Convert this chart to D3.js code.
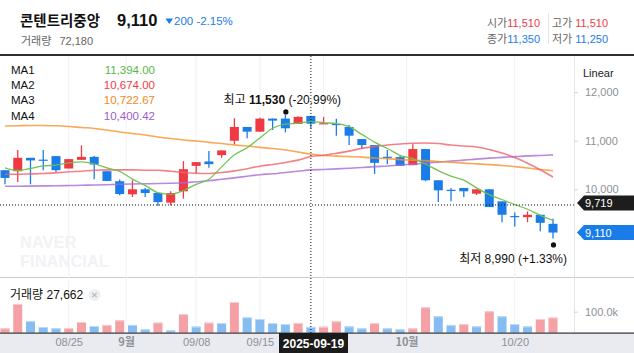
<!DOCTYPE html>
<html>
<head>
<meta charset="utf-8">
<style>
  body { margin: 0; background: #fff; }
  svg { display: block; font-family: "Liberation Sans", Arial, "Noto Sans CJK KR", sans-serif; }
  .axis path.domain { display: none; }
  .axis line { stroke: #cfd3d8; }
  .axis text { fill: #8e9196; font-size: 11px; }
</style>
<script src="https://cdn.jsdelivr.net/npm/d3@7"></script>
</head>
<body>
<svg id="chart"></svg>
<script>
// trading days shown (2025)
const dates = ["08/18","08/19","08/20","08/21","08/22","08/25","08/26","08/27","08/28","08/29",
  "09/01","09/02","09/03","09/04","09/05","09/08","09/09","09/10","09/11","09/12",
  "09/15","09/16","09/17","09/18","09/19","09/22","09/23","09/24","09/25","09/26","09/29","09/30",
  "10/01","10/02","10/10","10/13","10/14","10/15","10/16","10/17","10/20","10/21","10/22","10/23"];

const opens  = [10393,10372,10648,10610,10683,10428,10606,10668,10372,10166,9897,10000,9924,9725,9959,10482,10573,10703,10999,11283,11186,11455,11455,11345,11510,11350,11345,11283,11034,10910,10670,10662,10497,10828,10186,9990,10027,9910,10000,9752,9450,9427,9476,9290];
const highs  = [10393,10807,10648,10807,10683,10621,10904,10683,10372,10200,10186,10027,9924,9959,10579,10559,10786,10800,11463,11283,11470,11455,11530,11504,11510,11490,11450,11324,11034,10910,10807,10683,10925,10828,10186,10027,10027,10000,10000,9752,9524,9545,9476,9393];
const lows   = [10103,10151,10103,10393,10358,10428,10606,10207,10172,9876,9841,9841,9654,9669,9808,10325,10441,10648,10925,11049,11186,11220,11172,11345,11250,11350,11100,10910,10828,10317,10517,10482,10497,10166,9737,9752,9841,9882,9634,9323,9234,9323,9137,8990];
const closes = [10234,10648,10594,10600,10393,10621,10668,10511,10172,9903,10000,9924,9737,9924,10414,10559,10517,10800,11283,11186,11455,11413,11255,11490,11350,11360,11330,11103,10910,10544,10650,10482,10828,10186,9979,9970,9959,10000,9634,9476,9430,9476,9310,9110];
const volumes = [21000,137000,56000,27000,21500,22500,51000,32000,37000,59000,37000,16000,48000,11000,89000,29000,48000,46000,146000,73000,65000,46000,41000,46500,27662,28500,54000,30000,21000,46000,21000,16000,21000,121000,78000,37000,41000,30000,102000,78000,41000,30000,65000,72180];

// moving averages
const ma1 = [10441,10387,10428,10482,10497,10544,10565,10523,10440,10370,10210,10080,9930,9897,9975,10103,10207,10461,10710,10855,11055,11256,11339,11360,11394,11370,11350,11290,11130,10970,10840,10700,10630,10515,10385,10270,10190,10030,9890,9790,9685,9590,9465,9360];
const ma2 = [10310,10310,10317,10325,10337,10362,10372,10393,10399,10399,10399,10393,10393,10372,10346,10331,10325,10346,10379,10424,10476,10511,10552,10600,10674,10700,10740,10786,10842,10880,10910,10931,10946,10952,10941,10910,10890,10869,10817,10745,10652,10538,10403,10254];
const ma3 = [11303,11307,11314,11314,11307,11293,11272,11252,11221,11179,11148,11117,11076,11045,11014,10993,10966,10941,10914,10890,10863,10838,10807,10766,10723,10697,10683,10672,10662,10645,10631,10610,10600,10590,10573,10559,10538,10524,10507,10490,10466,10439,10408,10383];
const ma4 = [10062,10062,10066,10070,10072,10077,10083,10087,10093,10103,10110,10114,10118,10124,10134,10155,10176,10207,10235,10268,10300,10320,10345,10372,10400,10408,10420,10434,10449,10466,10480,10501,10517,10538,10559,10579,10600,10621,10641,10656,10672,10687,10697,10708];

const maNames = ["MA1", "MA2", "MA3", "MA4"];
const maValues = ["11,394.00", "10,674.00", "10,722.67", "10,400.42"];

const priceTicks = [10000, 11000, 12000];
const volumeTicks = [100000];
const gridDates = ["08/25", "09/01", "09/08", "09/15", "09/22", "10/01", "10/20"];
const dateTicks = ["08/25", "09/01", "09/08", "09/15", "10/01", "10/20"];
const monthLabels = { "09/01": "9월", "10/01": "10월" };

const crossIndex = 24;
const crossPrice = 9719;
const stockName = "콘텐트리중앙";

const RED = "#ef3a43", BLUE = "#1a7ce9";
const VOL_RED = "#f4a0a4", VOL_BLUE = "#85bcf2";
const maColors = ["#6fc04c", "#f0606a", "#f7922c", "#a66bd7"];
const maTextColors = ["#58b844", "#ee3c47", "#f5871c", "#9b5ccf"];

const width = 634, height = 353, plotRight = 574;
const svg = d3.select("#chart").attr("width", width).attr("height", height);
const fmt = d3.format(",");

const x = d3.scaleLinear().domain([0, dates.length - 1]).range([5, 553]);
const y = d3.scaleLinear().domain([10000, 12000]).range([189.3, 92.1]);
const vy = d3.scaleLinear().domain([0, 100000]).range([332.7, 311.7]);
const idx = d => dates.indexOf(d) - (monthLabels[d] ? 0.5 : 0);

// ---------- header ----------
const last = dates.length - 1;
const chg = closes[last] - closes[last - 1];
const pct = (chg / closes[last - 1] * 100).toFixed(2);

svg.append("text").attr("x", 20).attr("y", 26)
  .attr("font-family", "Noto Sans CJK KR").attr("font-weight", "bold")
  .attr("font-size", 14.5).attr("fill", "#111").text(stockName);
svg.append("text").attr("x", 117).attr("y", 26)
  .attr("font-weight", "bold").attr("font-size", 16.5).attr("fill", "#111")
  .text(fmt(closes[last]));
svg.append("path").attr("d", "M165.5,18.5 L173,18.5 L169.25,24 Z").attr("fill", BLUE);
svg.append("text").attr("x", 174).attr("y", 25).attr("font-size", 11.5).attr("fill", BLUE)
  .text(Math.abs(chg) + "  " + pct + "%");
svg.append("text").attr("x", 21).attr("y", 45).attr("font-size", 11).attr("fill", "#666")
  .html(`<tspan font-family="Noto Sans CJK KR">거래량</tspan><tspan dx="8">${fmt(volumes[last])}</tspan>`);

const ohlc = [
  { label: "시가", v: opens[crossIndex], c: RED, x: 540, y: 27 },
  { label: "종가", v: closes[crossIndex], c: BLUE, x: 540, y: 43 },
  { label: "고가", v: highs[crossIndex], c: RED, x: 608, y: 27 },
  { label: "저가", v: lows[crossIndex], c: BLUE, x: 608, y: 43 },
];
ohlc.forEach(o => {
  svg.append("text").attr("x", o.x).attr("y", o.y).attr("text-anchor", "end").attr("font-size", 11)
    .html(`<tspan fill="#666" font-family="Noto Sans CJK KR">${o.label}</tspan><tspan dx="${o.x > 560 ? 3 : 0}" fill="${o.c}">${fmt(o.v)}</tspan>`);
});
svg.append("line").attr("x1", 548.5).attr("x2", 548.5).attr("y1", 13).attr("y2", 44).attr("stroke", "#e2e4e8");
svg.append("rect").attr("x", 0).attr("y", 54).attr("width", width).attr("height", 2).attr("fill", "#2e2e2e");

// ---------- panes ----------
svg.append("rect").attr("x", 0).attr("y", 333).attr("width", width).attr("height", 20).attr("fill", "#e9ebf0");
svg.append("line").attr("x1", 0).attr("x2", width).attr("y1", 277.5).attr("y2", 277.5).attr("stroke", "#c7ccd3");

// vertical grid
svg.append("g").selectAll("line").data(gridDates).join("line")
  .attr("x1", d => x(idx(d))).attr("x2", d => x(idx(d)))
  .attr("y1", 56).attr("y2", 333).attr("stroke", "#eff1f4");

svg.append("line").attr("x1", plotRight + 0.5).attr("x2", plotRight + 0.5).attr("y1", 56).attr("y2", 333).attr("stroke", "#e1e4e8");

// watermark
svg.append("text").attr("x", 20).attr("y", 248).attr("font-weight", "bold").attr("font-size", 16.5).attr("fill", "#f1f2f5").text("NAVER");
svg.append("text").attr("x", 20).attr("y", 267).attr("font-weight", "bold").attr("font-size", 16.5).attr("fill", "#f1f2f5").text("FINANCIAL");

// ---------- candles ----------
svg.append("clipPath").attr("id", "pane").append("rect")
  .attr("x", 0).attr("y", 56).attr("width", plotRight).attr("height", 221);
const pane = svg.append("g").attr("clip-path", "url(#pane)");
const candles = pane.selectAll(".candle").data(dates).join("g").attr("class", "candle");
const col = i => closes[i] >= opens[i] ? RED : BLUE;
candles.append("line")
  .attr("x1", (d, i) => x(i)).attr("x2", (d, i) => x(i))
  .attr("y1", (d, i) => y(highs[i])).attr("y2", (d, i) => y(lows[i]))
  .attr("stroke", (d, i) => col(i)).attr("stroke-width", 1.3);
candles.append("rect")
  .attr("x", (d, i) => x(i) - 4.5).attr("width", 9)
  .attr("y", (d, i) => y(Math.max(opens[i], closes[i])))
  .attr("height", (d, i) => Math.max(1.2, Math.abs(y(opens[i]) - y(closes[i]))))
  .attr("fill", (d, i) => col(i));

// ---------- moving averages ----------
const line = d3.line().x((d, i) => x(i)).y(d => y(d)).curve(d3.curveMonotoneX);
[ma4, ma3, ma2, ma1].forEach((s, k) => {
  const j = 3 - k;
  pane.append("path").attr("d", line(s)).attr("fill", "none")
    .attr("stroke", maColors[j]).attr("stroke-width", j === 0 ? 1.3 : 1.6)
    .attr("stroke-opacity", j === 0 ? 0.95 : 0.8);
});

// legend
maNames.forEach((n, i) => {
  svg.append("text").attr("x", 11).attr("y", 74 + i * 15.2).attr("font-size", 11.5).attr("fill", "#111").text(n);
  svg.append("text").attr("x", 155).attr("y", 74 + i * 15.2).attr("text-anchor", "end")
    .attr("font-size", 11.5).attr("fill", maTextColors[i]).text(maValues[i]);
});

// high / low markers
const hiIdx = highs.indexOf(d3.max(highs)), loIdx = lows.indexOf(d3.min(lows));
const hiPct = ((closes[last] - highs[hiIdx]) / highs[hiIdx] * 100).toFixed(2);
const loPct = ((closes[last] - lows[loIdx]) / lows[loIdx] * 100).toFixed(2);
svg.append("circle").attr("cx", x(hiIdx) + 0.5).attr("cy", y(highs[hiIdx]) - 3).attr("r", 2.6).attr("fill", "#111");
svg.append("text").attr("x", x(hiIdx) - 3).attr("y", 104).attr("text-anchor", "middle").attr("font-size", 12).attr("fill", "#111")
  .html(`<tspan font-family="Noto Sans CJK KR">최고</tspan> <tspan font-weight="bold">${fmt(highs[hiIdx])}</tspan> (${hiPct}%)`);
svg.append("circle").attr("cx", x(loIdx) + 0.5).attr("cy", y(lows[loIdx]) + 6.5).attr("r", 2.6).attr("fill", "#111");
svg.append("text").attr("x", 567).attr("y", 263).attr("text-anchor", "end").attr("font-size", 12).attr("fill", "#111")
  .html(`<tspan font-family="Noto Sans CJK KR">최저</tspan> ${fmt(lows[loIdx])} (+${loPct}%)`);

// ---------- volume ----------
const vcol = i => (i === 0 || volumes[i] >= volumes[i - 1]) ? VOL_RED : VOL_BLUE;
const vbars = svg.append("g").selectAll("g").data(volumes).join("g");
vbars.append("rect")
  .attr("x", (d, i) => x(i) - 4.5).attr("width", 9)
  .attr("y", d => vy(d)).attr("height", d => vy(0) - vy(d))
  .attr("fill", (d, i) => vcol(i));
vbars.append("rect")
  .attr("x", (d, i) => x(i) - 4.5).attr("width", 9)
  .attr("y", d => vy(d)).attr("height", 1)
  .attr("fill", (d, i) => vcol(i) === VOL_RED ? "#f8cfd1" : "#bfdcf8");
svg.append("rect").attr("x", 0).attr("y", 332.5).attr("width", width).attr("height", 1.2).attr("fill", "#333");

svg.append("text").attr("x", 10).attr("y", 299).attr("font-size", 12).attr("fill", "#111")
  .html(`<tspan font-family="Noto Sans CJK KR">거래량</tspan> ${fmt(volumes[crossIndex])}`);
svg.append("circle").attr("cx", 94.5).attr("cy", 295).attr("r", 6).attr("fill", "#eeeff1");
svg.append("path").attr("d", "M92.3,292.8 L96.7,297.2 M96.7,292.8 L92.3,297.2").attr("stroke", "#b6b9be").attr("stroke-width", 1.2);

// ---------- axes ----------
const priceAxis = svg.append("g").attr("class", "axis").attr("transform", `translate(${plotRight},0)`)
  .call(d3.axisRight(y).tickValues(priceTicks).tickFormat(fmt).tickSize(4).tickPadding(7));
priceAxis.selectAll("text").filter(d => d === 12000).attr("fill", "#b8bbbf");

svg.append("g").attr("class", "axis").attr("transform", `translate(${plotRight},0)`)
  .call(d3.axisRight(vy).tickValues(volumeTicks).tickFormat(d => (d / 1000).toFixed(1) + "k").tickSize(4).tickPadding(7));

svg.append("text").attr("x", 583).attr("y", 77).attr("font-size", 11).attr("fill", "#222").text("Linear");

const dateAxis = svg.append("g").attr("class", "axis").attr("transform", "translate(0,338)")
  .call(d3.axisBottom(x).tickValues(dateTicks.map(idx)).tickSize(0).tickPadding(0)
    .tickFormat((d, i) => monthLabels[dateTicks[i]] || dateTicks[i]));
dateAxis.selectAll("text").filter((d, i) => monthLabels[dateTicks[i]])
  .attr("fill", "#111").attr("font-weight", "bold").attr("font-family", "Noto Sans CJK KR");

// ---------- crosshair ----------
const cx = x(crossIndex);
svg.append("line").attr("x1", cx).attr("x2", cx).attr("y1", 56).attr("y2", 333)
  .attr("stroke", "#111").attr("stroke-dasharray", "1,2");
svg.append("line").attr("x1", 0).attr("x2", plotRight).attr("y1", y(crossPrice) + 2).attr("y2", y(crossPrice) + 2)
  .attr("stroke", "#111").attr("stroke-dasharray", "1,2");

function priceTag(v, fill) {
  const cy = y(v);
  svg.append("path").attr("d", `M577,${cy} L584,${cy - 7.5} L634,${cy - 7.5} L634,${cy + 7.5} L584,${cy + 7.5} Z`).attr("fill", fill);
  svg.append("text").attr("x", 585).attr("y", cy + 4).attr("font-size", 11).attr("fill", "#fff").text(fmt(v));
}
priceTag(crossPrice, "#1d1d1d");
priceTag(closes[last], BLUE);

svg.append("rect").attr("x", 279).attr("y", 333).attr("width", 69).attr("height", 20).attr("fill", "#1b1b1b");
svg.append("text").attr("x", 313.5).attr("y", 347.5).attr("text-anchor", "middle").attr("font-size", 12)
  .attr("font-weight", "bold").attr("fill", "#fff").text("2025-" + dates[crossIndex].replace("/", "-"));
</script>
</body>
</html>
